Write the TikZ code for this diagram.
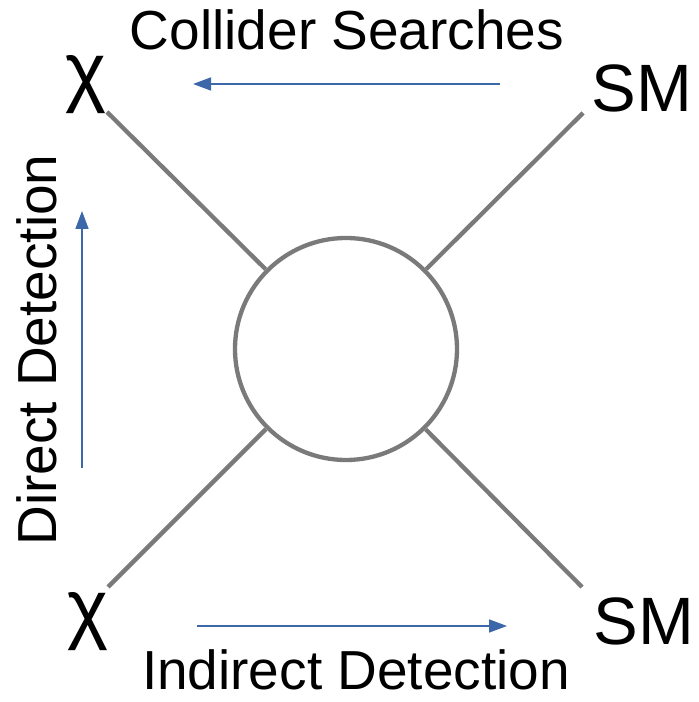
\documentclass[tikz,border=0pt]{standalone}
\usepackage{fontspec}
\setmainfont{Liberation Sans}
\usetikzlibrary{arrows.meta}

\definecolor{linegray}{RGB}{122,122,122}
\definecolor{flowblue}{RGB}{60,104,170}

\tikzset{
  leg/.style={draw=linegray, line width=4.3pt},
  blob/.style={circle, draw=linegray, line width=4.3pt, minimum size=222pt, inner sep=0pt, fill=white},
  flow/.style={draw=flowblue, line width=1.6pt, -{Triangle[length=18pt,width=13pt]}},
  caption/.style={inner sep=0pt, text depth=0pt, anchor=base, font=\fontsize{55}{66}\selectfont},
  particle/.style={inner sep=0pt, anchor=base, font=\fontsize{67}{80}\selectfont},
  dm/.style={inner sep=0pt, anchor=center, font=\fontsize{78}{90}\selectfont}
}

\begin{document}
\begin{tikzpicture}[x=1pt,y=1pt]
  \useasboundingbox (0,0) rectangle (699,702);

  % vertex blob
  \node[blob] (vertex) at (346,353) {};

  % outer ends of the four legs
  \coordinate (tl) at (107,590);
  \coordinate (tr) at (583,589);
  \coordinate (bl) at (108,115);
  \coordinate (br) at (582,115);

  \draw[leg] (tl) -- (vertex);
  \draw[leg] (tr) -- (vertex);
  \draw[leg] (bl) -- (vertex);
  \draw[leg] (br) -- (vertex);

  % external particles
  \node[dm] (chiA) at (86,617) {χ};
  \node[dm] (chiB) at (88,80) {χ};
  \node[particle] (smA) at (642,590) {SM};
  \node[particle] (smB) at (644,57) {SM};

  % process labels
  \node[caption] (collider) at (347,652) {Collider Searches};
  \node[caption] (indirect) at (356,12.5) {Indirect Detection};
  \node[caption, rotate=90] (direct) at (57,352) {Direct Detection};

  % direction arrows
  \coordinate (cStart) at (500,618);
  \coordinate (cEnd) at (193,618);
  \coordinate (iStart) at (197,76);
  \coordinate (iEnd) at (507,76);
  \coordinate (dStart) at (82,234);
  \coordinate (dEnd) at (82,491);

  \draw[flow] (cStart) -- (cEnd);
  \draw[flow] (iStart) -- (iEnd);
  \draw[flow] (dStart) -- (dEnd);
\end{tikzpicture}
\end{document}
